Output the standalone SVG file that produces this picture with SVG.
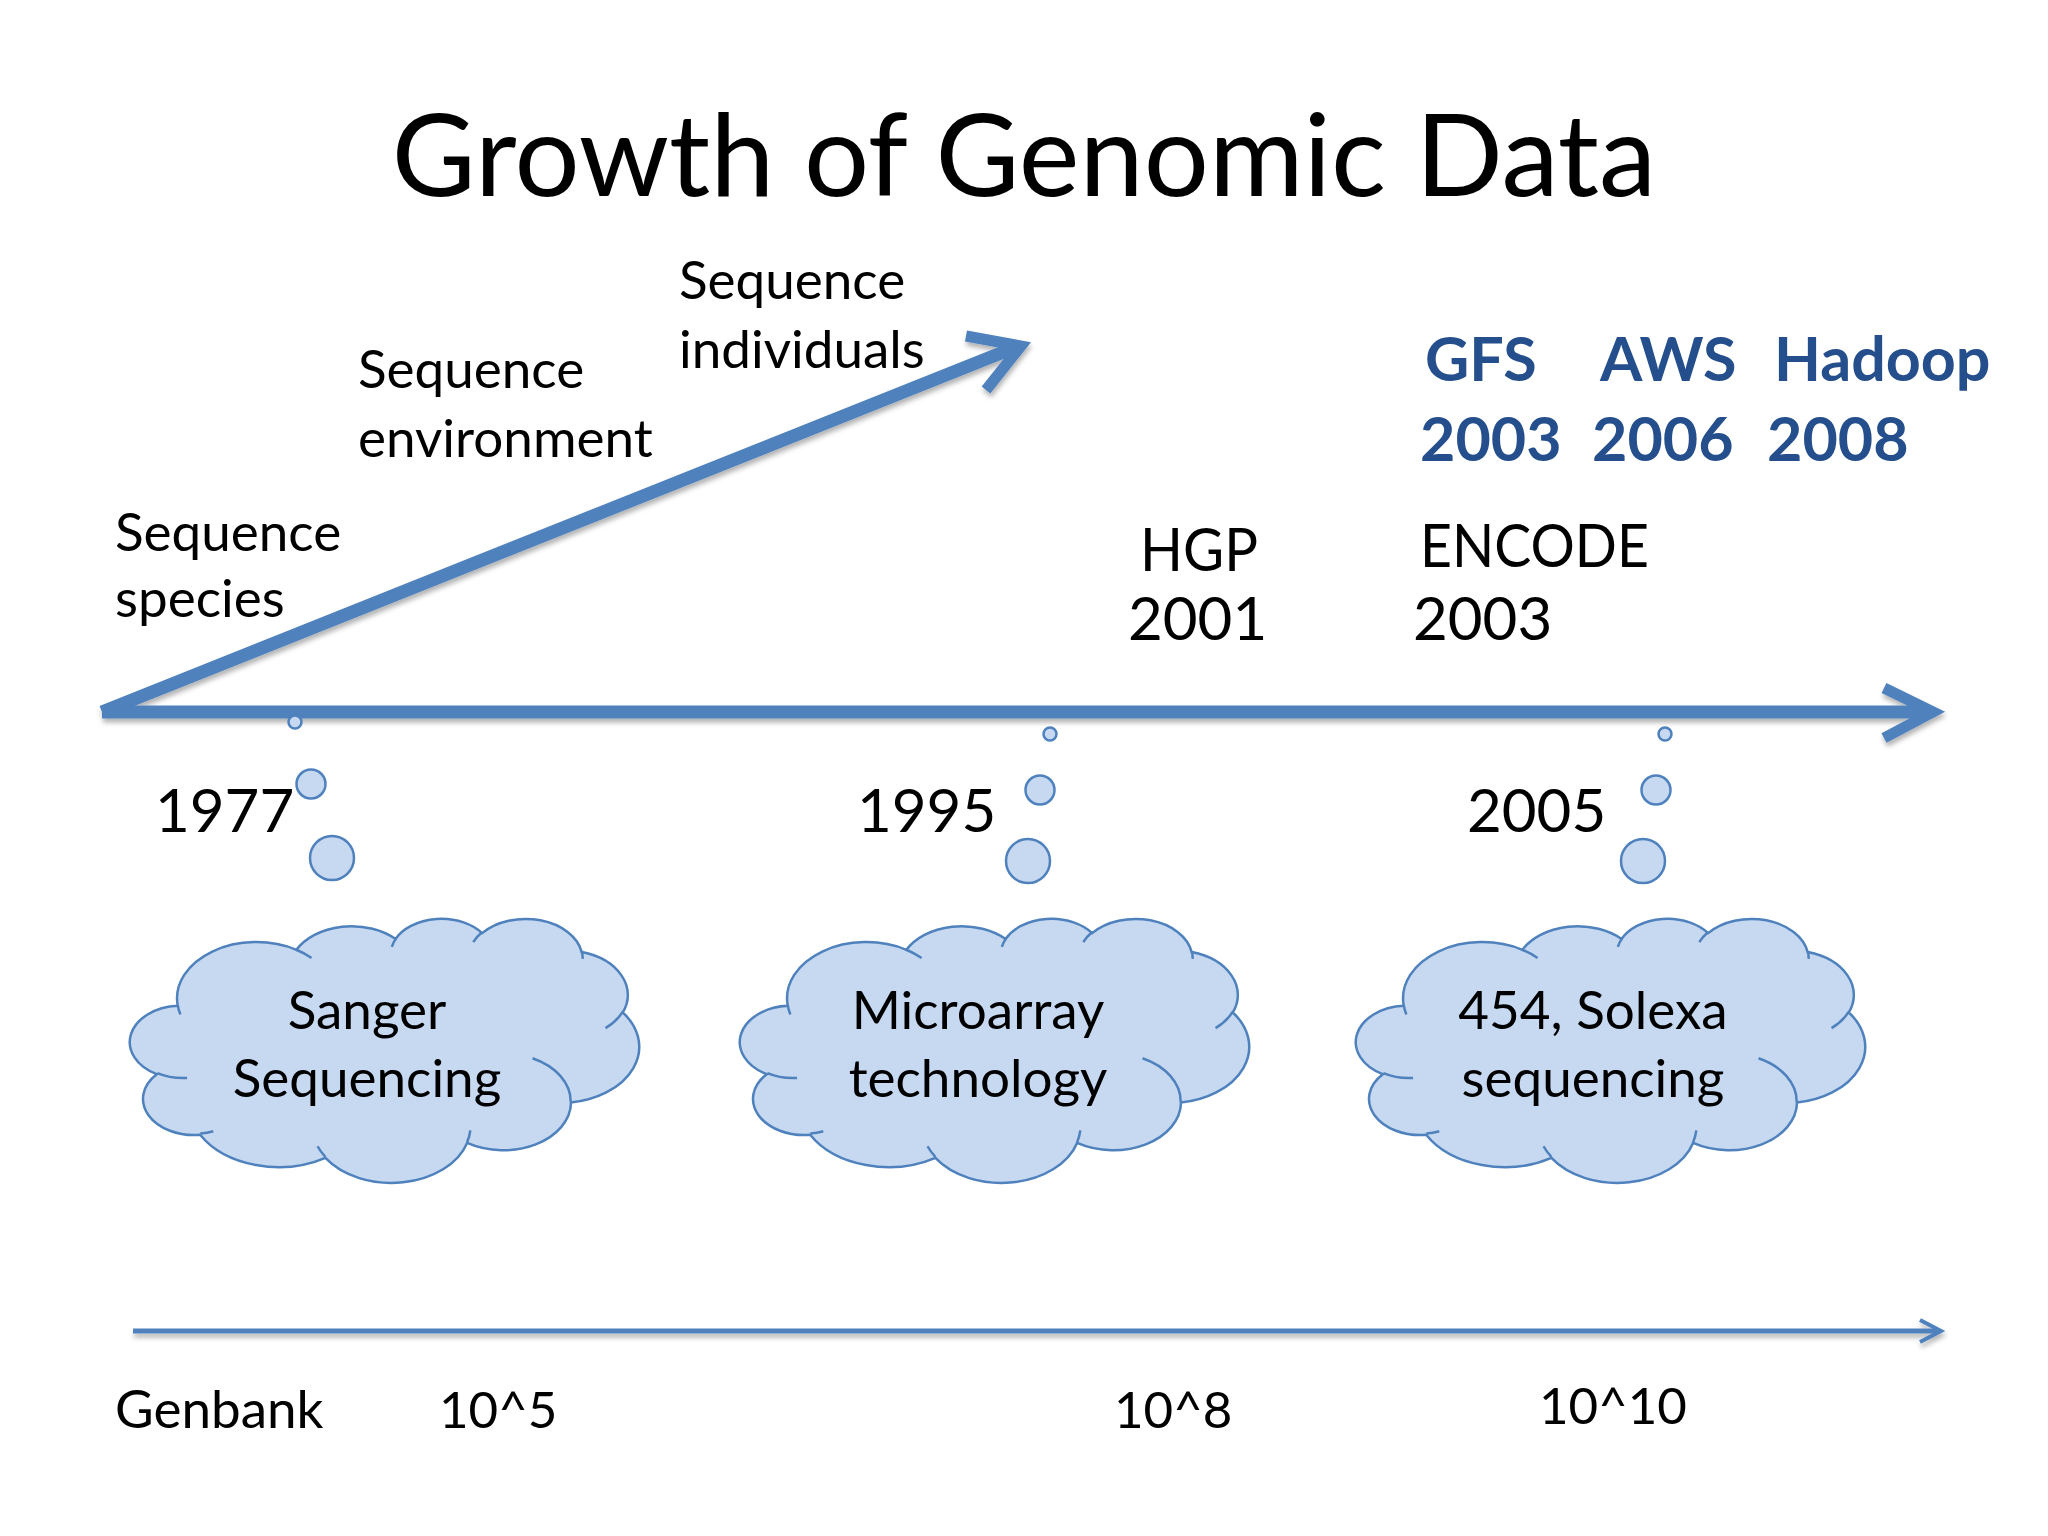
<svg xmlns="http://www.w3.org/2000/svg" xmlns:xlink="http://www.w3.org/1999/xlink" width="2048" height="1536" viewBox="0 0 2048 1536">
<defs>
<style>
.t{font-family:Lato,"Open Sans","Liberation Sans",sans-serif;fill:#000}
.s20{font-size:53px}
.n20{font-size:51px}
.s24{font-size:60px}
.b{font-weight:bold;fill:#254F8C;font-size:61px}
.ct{font-size:53px;text-anchor:middle}
.ax{fill:none;stroke:#4F81BD;stroke-linecap:butt;stroke-linejoin:miter}
.cb{fill:#C6D9F1;stroke:#4F81BD;stroke-width:2.5}
.cl{fill:none;stroke:#4F81BD;stroke-width:2.5}
.bub{fill:#C6D9F1;stroke:#4F81BD;stroke-width:2.5}
</style>
<filter id="sh" x="-5%" y="-20%" width="110%" height="150%">
<feDropShadow dx="1" dy="4" stdDeviation="2.5" flood-color="#000" flood-opacity="0.3"/>
</filter>
<path id="cloudBody" vector-effect="non-scaling-stroke" d="M3900 14370 A6753 9190 0 0 1 14005 5202 A5333 7267 0 0 1 22457 3432 A4365 5945 0 0 1 29834 2480 A4857 6595 0 0 1 38319 5576 A5333 7273 0 0 1 41819 15460 A6775 9220 0 0 1 37405 30203 A5785 7867 0 0 1 28556 36813 A6752 9215 0 0 1 16481 39265 A7720 10543 0 0 1 5806 35473 A4360 5918 0 0 1 2113 25553 A4345 5945 0 0 1 3900 14370 Z"/>
<path id="cloudLines" vector-effect="non-scaling-stroke" d="M4693 26177 A4345 5945 0 0 1 2160 25380 M6928 34899 A4360 5918 0 0 1 5819 35281 M16478 39090 A6752 9215 0 0 1 15810 37349 M28827 34751 A6752 9215 0 0 1 28560 36660 M34129 22954 A5785 7867 0 0 1 37381 30090 M41798 15354 A5333 7273 0 0 1 40350 18030 M38324 5426 A4857 6595 0 0 1 38400 6690 M29078 3952 A4857 6595 0 0 1 29820 2339 M22141 4720 A4365 5945 0 0 1 22500 3331 M14000 5192 A6753 9190 0 0 1 15301 6542 M4127 15789 A6753 9190 0 0 1 3900 14370"/>
</defs>
<rect width="2048" height="1536" fill="#fff"/>

<text id="title" class="t" x="1024" y="196" font-size="115" text-anchor="middle">Growth of Genomic Data</text>

<g id="connectors">
<g filter="url(#sh)">
<path class="ax" stroke-width="13" d="M102 712 L1926 712"/>
<path class="ax" stroke-width="11" d="M1884 688 L1933 712 L1884 738"/>
<path class="ax" stroke-width="13" d="M102 712 L1016 347"/>
<path class="ax" stroke-width="11" d="M966 336 L1021 346 L986 390"/>
<path class="ax" stroke-width="5" d="M133 1331 L1938 1331"/>
<path class="ax" stroke-width="4" d="M1920 1320 L1941 1331 L1920 1342"/>
</g>
</g>

<g id="label-species"><text class="t s20" x="115" y="551">Sequence</text><text class="t s20" x="115" y="617">species</text></g>
<g id="label-environment"><text class="t s20" x="358" y="388">Sequence</text><text class="t s20" x="358" y="457">environment</text></g>
<g id="label-individuals"><text class="t s20" x="679" y="299">Sequence</text><text class="t s20" x="679" y="368">individuals</text></g>

<g id="label-hgp"><text class="t s24" x="1140" y="571" textLength="118" lengthAdjust="spacingAndGlyphs">HGP</text><text class="t s24" x="1128" y="640">2001</text></g>
<g id="label-encode"><text class="t s24" x="1420" y="567" textLength="229" lengthAdjust="spacingAndGlyphs">ENCODE</text><text class="t s24" x="1413" y="640">2003</text></g>

<g id="label-gfs"><text class="t b" x="1425" y="381">GFS</text><text class="t b" x="1420" y="461">2003</text></g>
<g id="label-aws"><text class="t b" x="1600" y="381">AWS</text><text class="t b" x="1592" y="461">2006</text></g>
<g id="label-hadoop"><text class="t b" x="1774" y="381">Hadoop</text><text class="t b" x="1767" y="461">2008</text></g>

<g id="node-sanger">
<text class="t s24" x="155" y="832">1977</text>
<circle class="bub" cx="295" cy="722" r="6.5"/>
<circle class="bub" cx="311" cy="784" r="14.5"/>
<circle class="bub" cx="332" cy="858" r="22"/>
<g transform="translate(132,918) scale(0.011736,0.006111)"><use xlink:href="#cloudBody" class="cb"/><use xlink:href="#cloudLines" class="cl"/></g>
<text class="t ct" x="367" y="1029">Sanger</text>
<text class="t ct" x="367" y="1097">Sequencing</text>
</g>

<g id="node-microarray">
<text class="t s24" x="857" y="832">1995</text>
<circle class="bub" cx="1050" cy="734" r="6.5"/>
<circle class="bub" cx="1040" cy="790" r="14.5"/>
<circle class="bub" cx="1028" cy="861" r="22"/>
<g transform="translate(742,918) scale(0.011736,0.006111)"><use xlink:href="#cloudBody" class="cb"/><use xlink:href="#cloudLines" class="cl"/></g>
<text class="t ct" x="978" y="1029">Microarray</text>
<text class="t ct" x="978" y="1097">technology</text>
</g>

<g id="node-solexa">
<text class="t s24" x="1467" y="832">2005</text>
<circle class="bub" cx="1665" cy="734" r="6.5"/>
<circle class="bub" cx="1656" cy="790" r="14.5"/>
<circle class="bub" cx="1643" cy="861" r="22"/>
<g transform="translate(1358,918) scale(0.011736,0.006111)"><use xlink:href="#cloudBody" class="cb"/><use xlink:href="#cloudLines" class="cl"/></g>
<text class="t ct" x="1593" y="1029">454, Solexa</text>
<text class="t ct" x="1593" y="1097">sequencing</text>
</g>

<g id="genbank-row">
<text class="t s20" x="115" y="1428">Genbank</text>
<text class="t n20" x="439" y="1428">10^5</text>
<text class="t n20" x="1114" y="1428">10^8</text>
<text class="t n20" x="1539" y="1424">10^10</text>
</g>
</svg>
